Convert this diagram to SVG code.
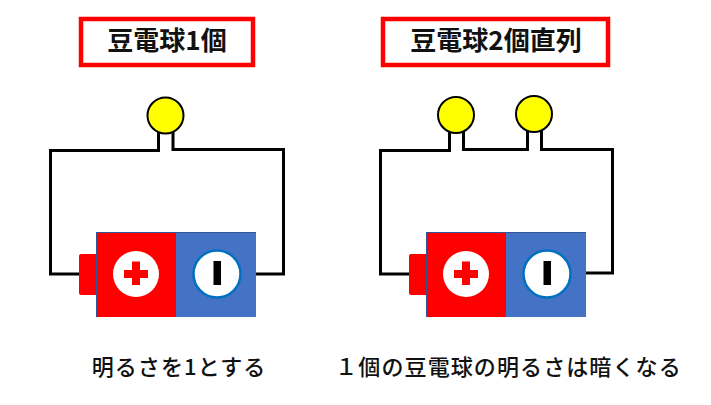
<svg xmlns="http://www.w3.org/2000/svg" width="711" height="405" viewBox="0 0 711 405">
<style>
text{font-family:"Noto Sans CJK JP","Noto Sans",sans-serif;fill:#111;font-weight:700;text-anchor:middle}
.t{font-size:26px}.c{font-size:22px;font-weight:500}
.box{fill:#fff;stroke:#f00;stroke-width:4.500}
.w{fill:none;stroke:#000;stroke-width:3;stroke-linecap:square}
.b{fill:#ff0;stroke:#000;stroke-width:2}
.p{fill:#f00}.n{fill:#4472c4}
</style>
<defs>
<g id="bat">
<rect x="79" y="254" width="20" height="41" rx="2" class="p"/>
<rect x="96.500" y="232" width="80" height="85" class="p"/>
<rect x="96" y="232" width="1" height="85" fill="#2f5597"/>
<rect x="176" y="232" width="80" height="85" class="n"/>
<rect x="96" y="232" width="160" height="1" fill="#2f5597"/>
<circle cx="136" cy="274" r="23" fill="#fff"/>
<path d="M124 270h8v-8.500h8v8.500h8v8h-8v7h-8v-7h-8z" class="p"/>
<circle cx="217" cy="274" r="23.500" fill="#fff" stroke="#0070c0" stroke-width="2.500"/>
<rect x="213.500" y="261" width="7.500" height="24" fill="#000"/>
</g>
</defs>
<g id="title1"><rect class="box" x="81" y="19" width="172" height="46"/><text class="t" x="167" y="49.500">豆電球1個</text></g>
<g id="title2"><rect class="box" x="383" y="19" width="225" height="46"/><text class="t" x="496" y="49.500">豆電球2個直列</text></g>
<g id="connectors">
<path class="w" d="M158.500 133V150.500H50.500V274H80"/>
<path class="w" d="M173 133V149.500H283.500V274H256"/>
<path class="w" d="M449.500 132V150.500H380.500V274H410"/>
<path class="w" d="M463.500 132V149.500H527.500V132"/>
<path class="w" d="M541.500 132V149.500H612.500V273H586"/>
</g>
<g id="bulb1"><circle class="b" cx="165.500" cy="115.500" r="18"/></g>
<g id="bulb2"><circle class="b" cx="456" cy="115" r="18"/></g>
<g id="bulb3"><circle class="b" cx="534" cy="114" r="18"/></g>
<g id="battery1"><use href="#bat"/></g>
<g id="battery2"><use href="#bat" x="330"/></g>
<text id="caption1" class="c" x="179" y="375" letter-spacing="1.100">明るさを1とする</text>
<text id="caption2" class="c" x="508.500" y="375" letter-spacing="1.100">１個の豆電球の明るさは暗くなる</text>
</svg>
